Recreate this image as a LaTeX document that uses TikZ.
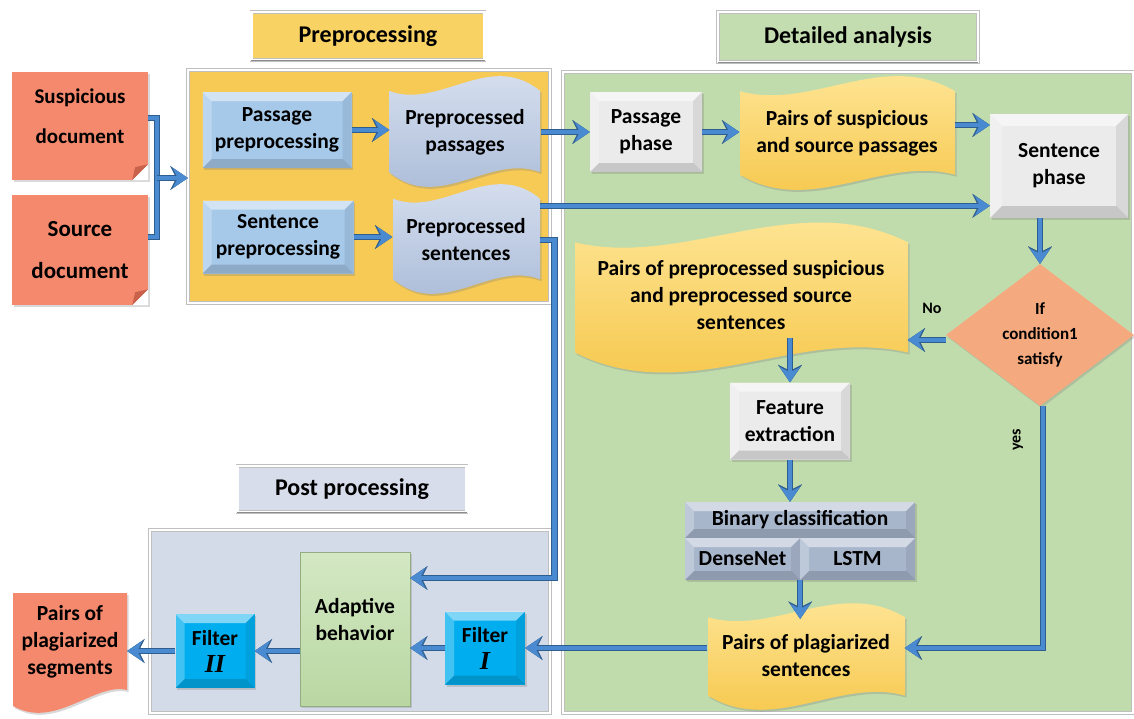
\documentclass[tikz,border=0pt]{standalone}
\usepackage{fontspec}
\setmainfont{Carlito}
\newfontfamily\serifit{Liberation Serif}
\usetikzlibrary{arrows.meta,shapes.geometric,shadows,calc}
\definecolor{goldC}{HTML}{F6CA55}
\definecolor{goldT}{HTML}{F9D264}
\definecolor{goldLight}{HTML}{FFE9A0}
\definecolor{goldDark}{HTML}{F5C443}
\definecolor{greenC}{HTML}{C1DCAC}
\definecolor{greenT}{HTML}{C3DDB0}
\definecolor{postC}{HTML}{D4DBE8}
\definecolor{postT}{HTML}{D7DDEA}
\definecolor{salmon}{HTML}{F4896E}
\definecolor{salmonD}{HTML}{C9624B}
\definecolor{blueBox}{HTML}{A6C9EA}
\definecolor{grayBox}{HTML}{EBEBEB}
\definecolor{waveBlueT}{HTML}{DCE4F1}
\definecolor{waveBlueB}{HTML}{A6B8D6}
\definecolor{diaC}{HTML}{F5A97F}
\definecolor{bcC}{HTML}{A8B6CC}
\definecolor{abT}{HTML}{D3E8C3}
\definecolor{abB}{HTML}{B9D7A2}
\definecolor{filterC}{HTML}{00AEEF}
\definecolor{arrowC}{HTML}{4A8AD0}
\definecolor{arrowD}{HTML}{2E5E90}
\newcommand\wavebg[5]{%
  \pgfmathsetmacro\ww{#3-#1}%
  \pgfmathsetmacro\hh{#4-#2}%
  \pgfmathsetmacro\aa{0.12*\hh}%
  \shade[#5] (#1,#2+\aa) .. controls (#1+\ww/3,#2+2.5*\aa) and (#1+2*\ww/3,#2-2.2*\aa) .. (#3,#2+\aa)
    -- (#3,#4-\aa) .. controls (#3-\ww/3,#4-2.5*\aa) and (#3-2*\ww/3,#4+2.2*\aa) .. (#1,#4-\aa) -- cycle;}
\tikzset{
  base/.style={font=\fontsize{21.5}{27}\selectfont\bfseries, align=center, inner sep=0pt, text=black},
  ttl/.style={font=\fontsize{24}{27}\selectfont\bfseries, align=center, inner sep=0pt, text=black},
  sh/.style={drop shadow={opacity=.3,shadow xshift=1.5pt,shadow yshift=-2pt}},
  container/.style={draw=black!25, double=white, double distance=2.5pt, line width=.5pt},
  flow/.style={draw=arrowC, line width=4.5pt, -{Stealth[length=15pt,width=20pt,inset=5pt,line width=0.1pt]},
    preaction={draw=arrowD, line width=6.5pt, -{Stealth[length=17.5pt,width=24pt,inset=6pt,line width=0.1pt]}}},
  flowline/.style={draw=arrowC, line width=4.5pt, preaction={draw=arrowD, line width=6.5pt}},
  bevel/.style={path picture={
    \fill[white,opacity=.5] (path picture bounding box.north west) -- (path picture bounding box.north east)
      -- ([shift={(-#1,-#1)}]path picture bounding box.north east) -- ([shift={(#1,-#1)}]path picture bounding box.north west) -- cycle;
    \fill[white,opacity=.25] (path picture bounding box.north west) -- ([shift={(#1,-#1)}]path picture bounding box.north west)
      -- ([shift={(#1,#1)}]path picture bounding box.south west) -- (path picture bounding box.south west) -- cycle;
    \fill[black,opacity=.15] (path picture bounding box.south west) -- (path picture bounding box.south east)
      -- ([shift={(-#1,#1)}]path picture bounding box.south east) -- ([shift={(#1,#1)}]path picture bounding box.south west) -- cycle;
    \fill[black,opacity=.08] (path picture bounding box.north east) -- (path picture bounding box.south east)
      -- ([shift={(-#1,#1)}]path picture bounding box.south east) -- ([shift={(-#1,-#1)}]path picture bounding box.north east) -- cycle;
  }},
  bevel/.default=9pt,
}
\begin{document}
\begin{tikzpicture}[x=1pt,y=-1pt]
\useasboundingbox (0,0) rectangle (1134,718);
% containers
\node[container, fill=goldC, minimum width=362pt, minimum height=233pt] (prebox) at (369,186.5) {};
\node[container, fill=greenC, minimum width=570pt, minimum height=641pt] (dabox) at (848,392.5) {};
\node[container, fill=postC, minimum width=400pt, minimum height=183pt] (postbox) at (350,621.5) {};
% titles
\node[ttl, container, fill=goldT, minimum width=233pt, minimum height=48pt] (pretitle) at (368,36) {Preprocessing};
\node[ttl, container, fill=greenT, minimum width=260pt, minimum height=50pt] (datitle) at (848,37) {Detailed analysis};
\node[ttl, container, fill=postT, minimum width=229pt, minimum height=46pt] (posttitle) at (352,489) {Post processing};
\draw[black!45, line width=1.5pt] (pretitle.south west) -- (pretitle.south east);
\draw[black!45, line width=1.5pt] (datitle.south west) -- (datitle.south east);
\draw[black!45, line width=1.5pt] (posttitle.south west) -- (posttitle.south east);
% wave backgrounds
\wavebg{389}{78}{540}{185}{top color=waveBlueT, bottom color=waveBlueB, sh}
\wavebg{393}{186}{540}{292}{top color=waveBlueT, bottom color=waveBlueB, sh}
\wavebg{740}{78}{955}{188}{top color=goldLight, bottom color=goldDark, sh}
\wavebg{575}{225}{908}{370}{top color=goldLight, bottom color=goldDark, sh}
\wavebg{708}{605}{905}{708}{top color=goldLight, bottom color=goldDark, sh}
% output document shape
\fill[salmon, sh] (13,593) -- (127,593) -- (127,690) .. controls (95,682) and (55,730) .. (13,706) -- cycle;
% nodes
\node[base, fill=salmon, sh, minimum width=136pt, minimum height=108pt,
  label={[base, font=\fontsize{21}{40}\selectfont\bfseries, yshift=10pt]center:Suspicious\\document}] (susp) at (80,126) {};
\node[base, fill=salmon, sh, minimum width=136pt, minimum height=110pt, font=\fontsize{23}{42}\selectfont\bfseries] (src) at (80,250) {Source\\document};
\node[base, bevel, sh, fill=blueBox, minimum width=149pt, minimum height=76pt] (pp) at (277,130) {Passage\\preprocessing};
\node[base, bevel, sh, fill=blueBox, minimum width=151pt, minimum height=73pt] (sp) at (278,237) {Sentence\\preprocessing};
\node[base, minimum width=151pt, minimum height=107pt] (ppas) at (465,132) {Preprocessed\\passages};
\node[base, minimum width=147pt, minimum height=106pt] (psen) at (466,240) {Preprocessed\\sentences};
\node[base, bevel, sh, fill=grayBox, minimum width=112pt, minimum height=80pt] (pph) at (646,132) {Passage\\phase};
\node[base, minimum width=215pt, minimum height=110pt] (pairsp) at (847,133) {Pairs of suspicious\\and source passages};
\node[base, bevel=12pt, sh, fill=grayBox, minimum width=138pt, minimum height=104pt] (sph) at (1059,166) {Sentence\\phase};
\node[base, minimum width=333pt, minimum height=125pt] (pairs2) at (741,295) {Pairs of preprocessed suspicious\\and preprocessed source\\sentences};
\node[diamond, aspect=1.32, inner sep=0pt, fill=diaC, sh, minimum width=188pt, minimum height=142pt, align=center, font=\fontsize{17}{25}\selectfont\bfseries] (dia) at (1040,335) {If\\condition1\\satisfy};
\node[base, bevel, sh, fill=grayBox, minimum width=120pt, minimum height=77pt] (fe) at (790,421) {Feature\\extraction};
\node[base, bevel, sh, fill=bcC, minimum width=230pt, minimum height=36pt] (bc) at (800,520) {Binary classification};
\node[base, bevel, sh, fill=bcC, minimum width=115pt, minimum height=42pt] (dn) at (742.5,559) {DenseNet};
\node[base, bevel, sh, fill=bcC, minimum width=115pt, minimum height=42pt] (lstm) at (857.5,559) {LSTM};
\node[base, minimum width=197pt, minimum height=90pt] (pls) at (806,656) {Pairs of plagiarized\\sentences};
\node[base, sh, top color=abT, bottom color=abB, draw=abB!80!black, line width=.3pt, minimum width=110pt, minimum height=154pt,
  label={[base, yshift=9pt]center:Adaptive\\behavior}] (ab) at (355,629) {};
\node[base, bevel, sh, fill=filterC, minimum width=80pt, minimum height=73pt] (f1) at (485,648) {Filter\\{\fontsize{26}{27}\selectfont\serifit\bfseries\itshape I}};
\node[base, bevel, sh, fill=filterC, minimum width=79pt, minimum height=74pt] (f2) at (215,651) {Filter\\{\fontsize{26}{27}\selectfont\serifit\bfseries\itshape II}};
\node[base, minimum width=114pt, minimum height=100pt] (seg) at (70,642) {Pairs of\\plagiarized\\segments};
\node[font=\fontsize{16}{16}\selectfont\bfseries] (nolbl) at (932,308) {No};
\node[font=\fontsize{16}{16}\selectfont\bfseries, rotate=90] (yeslbl) at (1018,440) {yes};
% folded corners
\foreach \d in {susp,src}{
  \fill[white] (\d.south east) -- ++(-16,0) -- ++(16,-16) -- cycle;
  \fill[salmonD] ([xshift=-16pt]\d.south east) -- ([yshift=16pt]\d.south east) -- ([shift={(-13pt,13pt)}]\d.south east) -- cycle;
}
% connectors
\coordinate (j) at (157,178);
\draw[flowline] ([yshift=8pt]susp.east) -| (j);
\draw[flowline] ([yshift=13pt]src.east) -| (j);
\draw[flow] (j) -- (j -| prebox.west);
\draw[flow] (pp.east) -- (pp.east -| ppas.west);
\draw[flow] (sp.east) -- (sp.east -| psen.west);
\draw[flow] (ppas.east) -- (ppas.east -| pph.west);
\draw[flow] (pph.east) -- (pph.east -| pairsp.west);
\coordinate (s2) at ([yshift=8pt]pairsp.east);
\draw[flow] (s2) -- (s2 -| sph.west);
\coordinate (s1) at ([yshift=-19pt]psen.north east);
\draw[flow] (s1) -- (s1 -| sph.west);
\draw[flow] (sph.south -| dia.north) -- (dia.north);
\draw[flow] ([yshift=-5pt]dia.west) -- ([yshift=-5pt]dia.west -| pairs2.east);
\draw[flow] (fe.north |- pairs2.south) ++(0,-20) -- (fe.north);
\draw[flow] (fe.south) -- (fe.south |- bc.north);
\draw[flow] (dn.south east) -- ([yshift=-8pt]dn.south east |- pls.north);
\coordinate (yesin) at ([yshift=8pt]pls.east);
\draw[flow] ([xshift=3pt]dia.south) |- (yesin);
\coordinate (abin) at ([yshift=51pt]ab.east);
\draw[flow] (psen.east) -- ++(15,0) |- (abin);
\draw[flow] (pls.west |- f1.east) -- (f1.east);
\draw[flow] (f1.west) -- (f1.west -| ab.east);
\draw[flow] (ab.west |- f2.east) -- (f2.east);
\draw[flow] (f2.west) -- (f2.west -| seg.east);
\end{tikzpicture}
\end{document}
